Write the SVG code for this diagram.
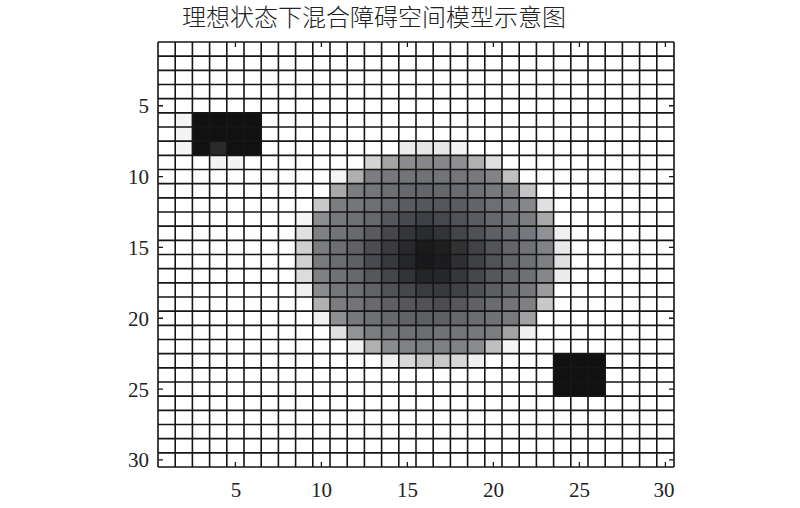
<svg xmlns="http://www.w3.org/2000/svg" width="800" height="508" viewBox="0 0 800 508">
<style>
.title{font-family:"Liberation Serif","Noto Sans CJK SC",serif;font-size:24px;font-weight:300;fill:#222}
.lbl{font-family:"Liberation Serif",serif;font-size:21px;fill:#222}
.grid{fill:none;stroke:#161616;stroke-width:1.6}
.tick{fill:none;stroke:#161616;stroke-width:1.3}
.blk{fill:#111}
</style>
<rect width="800" height="508" fill="#fff"/>
<text class="title" x="374" y="26" text-anchor="middle">理想状态下混合障碍空间模型示意图</text>
<g id="cells" transform="matrix(17.2 0 0 14.16667 158 42)">
<rect x="0" y="0" width="30" height="30" fill="#fff"/>
<!-- top-left obstacle -->
<rect class="blk" x="2" y="5" width="4" height="3"/>
<rect x="3" y="7" width="1" height="1" fill="#2a2a2a"/>
<rect x="1" y="5" width="1" height="3" fill="#f4f4f4"/>
<rect x="3" y="8" width="2" height="1" fill="#f4f4f4"/>
<!-- bottom-right obstacle -->
<rect class="blk" x="23" y="22" width="3" height="3"/>
<!-- blob row 8 -->
<rect x="14" y="7" width="1" height="1" fill="#ececec"/><rect x="15" y="7" width="1" height="1" fill="#e6e6e6"/><rect x="16" y="7" width="1" height="1" fill="#e6e6e6"/><rect x="17" y="7" width="1" height="1" fill="#f4f4f4"/>
<!-- row 9 -->
<rect x="12" y="8" width="1" height="1" fill="#d3d3d3"/><rect x="13" y="8" width="1" height="1" fill="#a4a4a4"/><rect x="14" y="8" width="1" height="1" fill="#8c8c8e"/><rect x="15" y="8" width="1" height="1" fill="#878789"/><rect x="16" y="8" width="1" height="1" fill="#878789"/><rect x="17" y="8" width="1" height="1" fill="#8f8f91"/><rect x="18" y="8" width="1" height="1" fill="#b0b0b0"/><rect x="19" y="8" width="1" height="1" fill="#e0e0e0"/>
<!-- row 10 -->
<rect x="10" y="9" width="1" height="1" fill="#f5f5f5"/><rect x="11" y="9" width="1" height="1" fill="#b0b0b0"/><rect x="12" y="9" width="1" height="1" fill="#7c7d82"/><rect x="13" y="9" width="1" height="1" fill="#76787d"/><rect x="14" y="9" width="1" height="1" fill="#727479"/><rect x="15" y="9" width="1" height="1" fill="#707277"/><rect x="16" y="9" width="1" height="1" fill="#727479"/><rect x="17" y="9" width="1" height="1" fill="#74767c"/><rect x="18" y="9" width="1" height="1" fill="#77797e"/><rect x="19" y="9" width="1" height="1" fill="#818387"/><rect x="20" y="9" width="1" height="1" fill="#c0c0c0"/>
<!-- row 11 -->
<rect x="10" y="10" width="1" height="1" fill="#a8a8a8"/><rect x="11" y="10" width="1" height="1" fill="#7a7c80"/><rect x="12" y="10" width="1" height="1" fill="#737579"/><rect x="13" y="10" width="1" height="1" fill="#6c6e73"/><rect x="14" y="10" width="1" height="1" fill="#66686d"/><rect x="15" y="10" width="1" height="1" fill="#63656a"/><rect x="16" y="10" width="1" height="1" fill="#65676c"/><rect x="17" y="10" width="1" height="1" fill="#696b71"/><rect x="18" y="10" width="1" height="1" fill="#6e7076"/><rect x="19" y="10" width="1" height="1" fill="#76787d"/><rect x="20" y="10" width="1" height="1" fill="#7f8185"/><rect x="21" y="10" width="1" height="1" fill="#c3c3c3"/>
<!-- row 12 -->
<rect x="9" y="11" width="1" height="1" fill="#c8c8c8"/><rect x="10" y="11" width="1" height="1" fill="#7c7d80"/><rect x="11" y="11" width="1" height="1" fill="#747679"/><rect x="12" y="11" width="1" height="1" fill="#6e7074"/><rect x="13" y="11" width="1" height="1" fill="#65676c"/><rect x="14" y="11" width="1" height="1" fill="#5a5c61"/><rect x="15" y="11" width="1" height="1" fill="#55575c"/><rect x="16" y="11" width="1" height="1" fill="#55575d"/><rect x="17" y="11" width="1" height="1" fill="#5a5c62"/><rect x="18" y="11" width="1" height="1" fill="#63656b"/><rect x="19" y="11" width="1" height="1" fill="#6d6f75"/><rect x="20" y="11" width="1" height="1" fill="#76787e"/><rect x="21" y="11" width="1" height="1" fill="#85878a"/><rect x="22" y="11" width="1" height="1" fill="#e0e0e0"/>
<!-- row 13 -->
<rect x="8" y="12" width="1" height="1" fill="#f5f5f5"/><rect x="9" y="12" width="1" height="1" fill="#8c8d90"/><rect x="10" y="12" width="1" height="1" fill="#76787c"/><rect x="11" y="12" width="1" height="1" fill="#6e7074"/><rect x="12" y="12" width="1" height="1" fill="#65676b"/><rect x="13" y="12" width="1" height="1" fill="#55575c"/><rect x="14" y="12" width="1" height="1" fill="#48494e"/><rect x="15" y="12" width="1" height="1" fill="#3f4045"/><rect x="16" y="12" width="1" height="1" fill="#46484d"/><rect x="17" y="12" width="1" height="1" fill="#505258"/><rect x="18" y="12" width="1" height="1" fill="#5a5c62"/><rect x="19" y="12" width="1" height="1" fill="#66686e"/><rect x="20" y="12" width="1" height="1" fill="#707278"/><rect x="21" y="12" width="1" height="1" fill="#7a7c80"/><rect x="22" y="12" width="1" height="1" fill="#a8a8a8"/>
<!-- row 14 -->
<rect x="8" y="13" width="1" height="1" fill="#e0e0e0"/><rect x="9" y="13" width="1" height="1" fill="#7e8084"/><rect x="10" y="13" width="1" height="1" fill="#717377"/><rect x="11" y="13" width="1" height="1" fill="#686a6e"/><rect x="12" y="13" width="1" height="1" fill="#585a5e"/><rect x="13" y="13" width="1" height="1" fill="#46474b"/><rect x="14" y="13" width="1" height="1" fill="#35363a"/><rect x="15" y="13" width="1" height="1" fill="#2a2b2e"/><rect x="16" y="13" width="1" height="1" fill="#333438"/><rect x="17" y="13" width="1" height="1" fill="#434549"/><rect x="18" y="13" width="1" height="1" fill="#4f5157"/><rect x="19" y="13" width="1" height="1" fill="#5e6066"/><rect x="20" y="13" width="1" height="1" fill="#6a6c72"/><rect x="21" y="13" width="1" height="1" fill="#767880"/><rect x="22" y="13" width="1" height="1" fill="#909195"/><rect x="23" y="13" width="1" height="1" fill="#f0f0f0"/>
<!-- row 15 -->
<rect x="8" y="14" width="1" height="1" fill="#d0d0d0"/><rect x="9" y="14" width="1" height="1" fill="#7a7c80"/><rect x="10" y="14" width="1" height="1" fill="#6c6e72"/><rect x="11" y="14" width="1" height="1" fill="#5f6165"/><rect x="12" y="14" width="1" height="1" fill="#4c4d52"/><rect x="13" y="14" width="1" height="1" fill="#3a3b3f"/><rect x="14" y="14" width="1" height="1" fill="#28292b"/><rect x="15" y="14" width="1" height="1" fill="#1a1a1c"/><rect x="16" y="14" width="1" height="1" fill="#1e1e20"/><rect x="17" y="14" width="1" height="1" fill="#303234"/><rect x="18" y="14" width="1" height="1" fill="#404246"/><rect x="19" y="14" width="1" height="1" fill="#525458"/><rect x="20" y="14" width="1" height="1" fill="#63656b"/><rect x="21" y="14" width="1" height="1" fill="#707278"/><rect x="22" y="14" width="1" height="1" fill="#808286"/><rect x="23" y="14" width="1" height="1" fill="#e8e8e8"/>
<!-- row 16 -->
<rect x="8" y="15" width="1" height="1" fill="#d0d0d0"/><rect x="9" y="15" width="1" height="1" fill="#787a7e"/><rect x="10" y="15" width="1" height="1" fill="#6a6c70"/><rect x="11" y="15" width="1" height="1" fill="#5e6064"/><rect x="12" y="15" width="1" height="1" fill="#4a4b50"/><rect x="13" y="15" width="1" height="1" fill="#38393d"/><rect x="14" y="15" width="1" height="1" fill="#262729"/><rect x="15" y="15" width="1" height="1" fill="#18181a"/><rect x="16" y="15" width="1" height="1" fill="#1c1c1e"/><rect x="17" y="15" width="1" height="1" fill="#2e2f31"/><rect x="18" y="15" width="1" height="1" fill="#404145"/><rect x="19" y="15" width="1" height="1" fill="#505256"/><rect x="20" y="15" width="1" height="1" fill="#606266"/><rect x="21" y="15" width="1" height="1" fill="#6e7074"/><rect x="22" y="15" width="1" height="1" fill="#7e8084"/><rect x="23" y="15" width="1" height="1" fill="#e0e0e0"/>
<!-- row 17 -->
<rect x="8" y="16" width="1" height="1" fill="#dcdcdc"/><rect x="9" y="16" width="1" height="1" fill="#7e8084"/><rect x="10" y="16" width="1" height="1" fill="#707276"/><rect x="11" y="16" width="1" height="1" fill="#66686c"/><rect x="12" y="16" width="1" height="1" fill="#55575b"/><rect x="13" y="16" width="1" height="1" fill="#45464a"/><rect x="14" y="16" width="1" height="1" fill="#333438"/><rect x="15" y="16" width="1" height="1" fill="#242527"/><rect x="16" y="16" width="1" height="1" fill="#26272a"/><rect x="17" y="16" width="1" height="1" fill="#36373a"/><rect x="18" y="16" width="1" height="1" fill="#46474b"/><rect x="19" y="16" width="1" height="1" fill="#55575b"/><rect x="20" y="16" width="1" height="1" fill="#62646a"/><rect x="21" y="16" width="1" height="1" fill="#6e7074"/><rect x="22" y="16" width="1" height="1" fill="#85878a"/><rect x="23" y="16" width="1" height="1" fill="#ececec"/>
<!-- row 18 -->
<rect x="8" y="17" width="1" height="1" fill="#f0f0f0"/><rect x="9" y="17" width="1" height="1" fill="#8a8b8e"/><rect x="10" y="17" width="1" height="1" fill="#74767a"/><rect x="11" y="17" width="1" height="1" fill="#6c6e72"/><rect x="12" y="17" width="1" height="1" fill="#606266"/><rect x="13" y="17" width="1" height="1" fill="#505256"/><rect x="14" y="17" width="1" height="1" fill="#46474b"/><rect x="15" y="17" width="1" height="1" fill="#3a3b3f"/><rect x="16" y="17" width="1" height="1" fill="#38393d"/><rect x="17" y="17" width="1" height="1" fill="#414246"/><rect x="18" y="17" width="1" height="1" fill="#4e5054"/><rect x="19" y="17" width="1" height="1" fill="#5c5e62"/><rect x="20" y="17" width="1" height="1" fill="#686a6e"/><rect x="21" y="17" width="1" height="1" fill="#74767a"/><rect x="22" y="17" width="1" height="1" fill="#9c9c9e"/>
<!-- row 19 -->
<rect x="9" y="18" width="1" height="1" fill="#b0b0b0"/><rect x="10" y="18" width="1" height="1" fill="#7a7c80"/><rect x="11" y="18" width="1" height="1" fill="#727478"/><rect x="12" y="18" width="1" height="1" fill="#67696d"/><rect x="13" y="18" width="1" height="1" fill="#5e6064"/><rect x="14" y="18" width="1" height="1" fill="#55575b"/><rect x="15" y="18" width="1" height="1" fill="#505256"/><rect x="16" y="18" width="1" height="1" fill="#4c4d52"/><rect x="17" y="18" width="1" height="1" fill="#55575b"/><rect x="18" y="18" width="1" height="1" fill="#606266"/><rect x="19" y="18" width="1" height="1" fill="#6a6c70"/><rect x="20" y="18" width="1" height="1" fill="#727478"/><rect x="21" y="18" width="1" height="1" fill="#7e8084"/><rect x="22" y="18" width="1" height="1" fill="#c8c8c8"/>
<!-- row 20 -->
<rect x="9" y="19" width="1" height="1" fill="#f0f0f0"/><rect x="10" y="19" width="1" height="1" fill="#8e8f92"/><rect x="11" y="19" width="1" height="1" fill="#76787c"/><rect x="12" y="19" width="1" height="1" fill="#6e7074"/><rect x="13" y="19" width="1" height="1" fill="#66686c"/><rect x="14" y="19" width="1" height="1" fill="#606266"/><rect x="15" y="19" width="1" height="1" fill="#5d5f63"/><rect x="16" y="19" width="1" height="1" fill="#5e6064"/><rect x="17" y="19" width="1" height="1" fill="#65676b"/><rect x="18" y="19" width="1" height="1" fill="#6a6c70"/><rect x="19" y="19" width="1" height="1" fill="#707276"/><rect x="20" y="19" width="1" height="1" fill="#78797d"/><rect x="21" y="19" width="1" height="1" fill="#a0a0a0"/>
<!-- row 21 -->
<rect x="10" y="20" width="1" height="1" fill="#e0e0e0"/><rect x="11" y="20" width="1" height="1" fill="#939496"/><rect x="12" y="20" width="1" height="1" fill="#7a7c80"/><rect x="13" y="20" width="1" height="1" fill="#74767a"/><rect x="14" y="20" width="1" height="1" fill="#6e7074"/><rect x="15" y="20" width="1" height="1" fill="#6c6e72"/><rect x="16" y="20" width="1" height="1" fill="#707276"/><rect x="17" y="20" width="1" height="1" fill="#737579"/><rect x="18" y="20" width="1" height="1" fill="#76787c"/><rect x="19" y="20" width="1" height="1" fill="#7a7c80"/><rect x="20" y="20" width="1" height="1" fill="#a4a4a4"/><rect x="21" y="20" width="1" height="1" fill="#f0f0f0"/>
<!-- row 22 -->
<rect x="11" y="21" width="1" height="1" fill="#f0f0f0"/><rect x="12" y="21" width="1" height="1" fill="#b0b0b0"/><rect x="13" y="21" width="1" height="1" fill="#8a8b8e"/><rect x="14" y="21" width="1" height="1" fill="#808185"/><rect x="15" y="21" width="1" height="1" fill="#7c7e82"/><rect x="16" y="21" width="1" height="1" fill="#7e8084"/><rect x="17" y="21" width="1" height="1" fill="#808185"/><rect x="18" y="21" width="1" height="1" fill="#8a8b8e"/><rect x="19" y="21" width="1" height="1" fill="#c0c0c0"/><rect x="20" y="21" width="1" height="1" fill="#f5f5f5"/>
<!-- row 23 -->
<rect x="13" y="22" width="1" height="1" fill="#f0f0f0"/><rect x="14" y="22" width="1" height="1" fill="#d8d8d8"/><rect x="15" y="22" width="1" height="1" fill="#c8c8c8"/><rect x="16" y="22" width="1" height="1" fill="#c8c8c8"/><rect x="17" y="22" width="1" height="1" fill="#d8d8d8"/><rect x="18" y="22" width="1" height="1" fill="#f0f0f0"/>
</g>
<g id="gridlines">
<path class="grid" d="M158 42V467M175.2 42V467M192.4 42V467M209.6 42V467M226.8 42V467M244 42V467M261.2 42V467M278.4 42V467M295.6 42V467M312.8 42V467M330 42V467M347.2 42V467M364.4 42V467M381.6 42V467M398.8 42V467M416 42V467M433.2 42V467M450.4 42V467M467.6 42V467M484.8 42V467M502 42V467M519.2 42V467M536.4 42V467M553.6 42V467M570.8 42V467M588 42V467M605.2 42V467M622.4 42V467M639.6 42V467M656.8 42V467M674 42V467"/>
<path class="grid" d="M158 42H674M158 56.17H674M158 70.33H674M158 84.5H674M158 98.67H674M158 112.83H674M158 127H674M158 141.17H674M158 155.33H674M158 169.5H674M158 183.67H674M158 197.83H674M158 212H674M158 226.17H674M158 240.33H674M158 254.5H674M158 268.67H674M158 282.83H674M158 297H674M158 311.17H674M158 325.33H674M158 339.5H674M158 353.67H674M158 367.83H674M158 382H674M158 396.17H674M158 410.33H674M158 424.5H674M158 438.67H674M158 452.83H674M158 467H674"/>
</g>
<g id="ticks">
<path class="tick" d="M235.4 467v-5M321.4 467v-5M407.4 467v-5M493.4 467v-5M579.4 467v-5M665.4 467v-5M235.4 42v5M321.4 42v5M407.4 42v5M493.4 42v5M579.4 42v5M665.4 42v5"/>
<path class="tick" d="M158 105.75h5M158 176.58h5M158 247.42h5M158 318.25h5M158 389.08h5M158 459.92h5M674 105.75h-5M674 176.58h-5M674 247.42h-5M674 318.25h-5M674 389.08h-5M674 459.92h-5"/>
</g>
<g id="xlabels" class="lbl" text-anchor="middle">
<text x="236" y="497">5</text>
<text x="321.4" y="497">10</text>
<text x="407.4" y="497">15</text>
<text x="493.4" y="497">20</text>
<text x="579.4" y="497">25</text>
<text x="664" y="497">30</text>
</g>
<g id="ylabels" class="lbl" text-anchor="end">
<text x="149" y="113">5</text>
<text x="149" y="184">10</text>
<text x="149" y="254.5">15</text>
<text x="149" y="325.5">20</text>
<text x="149" y="396.5">25</text>
<text x="149" y="467">30</text>
</g>
</svg>
